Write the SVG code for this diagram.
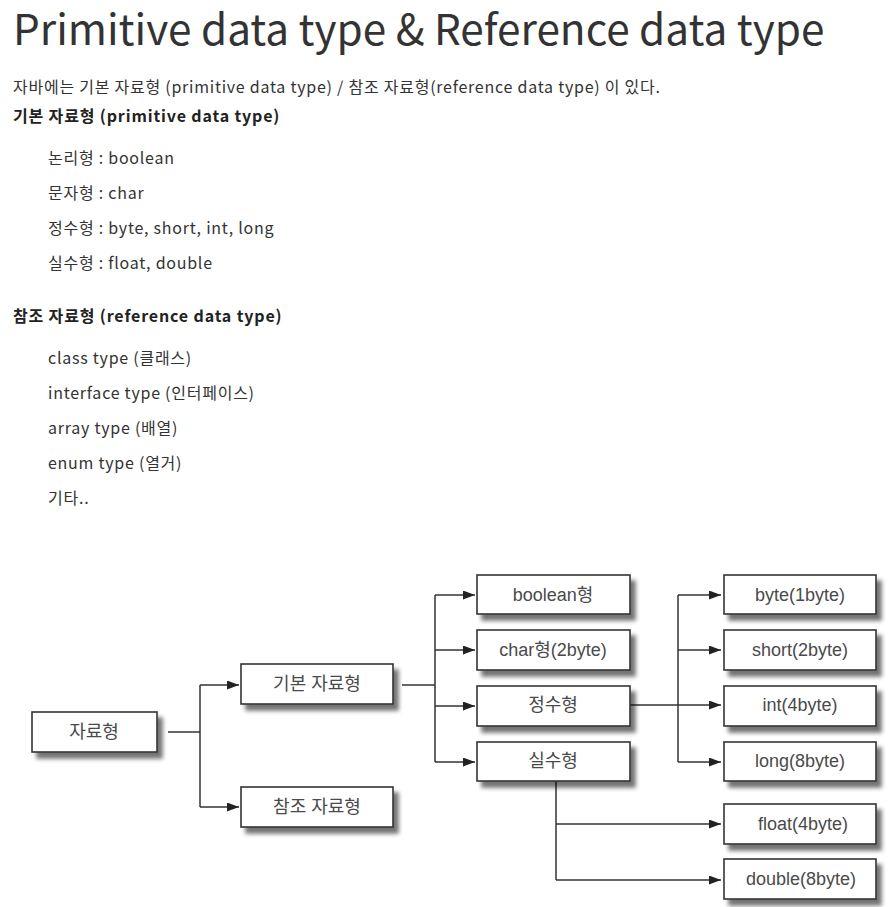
<svg xmlns="http://www.w3.org/2000/svg" width="894" height="907" viewBox="0 0 894 907">
<style>
.doc{font-family:"Noto Sans CJK KR","Noto Sans",sans-serif;fill:#333;}
.title{font-size:42.3px;}
.p{font-size:16px;letter-spacing:0.75px;}
.b{font-size:16px;font-weight:bold;fill:#222;letter-spacing:0.85px;}
.box rect{fill:#fff;stroke:#333;stroke-width:1.6;filter:url(#sh);}
.box text{font-family:"Liberation Sans","Noto Sans CJK KR",sans-serif;font-size:18px;fill:#4a4a4a;text-anchor:middle;}
.conn path{fill:none;stroke:#333;stroke-width:1.5;}
.conn path.a{marker-end:url(#arr);}
</style>
<defs>
<filter id="sh" x="-10%" y="-20%" width="130%" height="160%">
<feGaussianBlur in="SourceAlpha" stdDeviation="2"/>
<feOffset dx="5" dy="6" result="o"/>
<feComponentTransfer><feFuncA type="linear" slope="0.55"/></feComponentTransfer>
<feMerge><feMergeNode/><feMergeNode in="SourceGraphic"/></feMerge>
</filter>
<marker id="arr" markerWidth="13" markerHeight="10" refX="12" refY="4.5" orient="auto" markerUnits="userSpaceOnUse">
<path d="M0,0 L12,4.5 L0,9 z" fill="#222"/>
</marker>
</defs>
<rect width="894" height="907" fill="#fff"/>
<g id="text-body" class="doc">
<text class="title" x="13" y="45">Primitive data type &amp; Reference data type</text>
<text class="p" x="13" y="93">자바에는 기본 자료형 (primitive data type) / 참조 자료형(reference data type) 이 있다.</text>
<text class="b" x="13" y="122">기본 자료형 (primitive data type)</text>
<text class="p" x="48" y="164">논리형 : boolean</text>
<text class="p" x="48" y="199">문자형 : char</text>
<text class="p" x="48" y="234">정수형 : byte, short, int, long</text>
<text class="p" x="48" y="269">실수형 : float, double</text>
<text class="b" x="13" y="322">참조 자료형 (reference data type)</text>
<text class="p" x="48" y="364">class type (클래스)</text>
<text class="p" x="48" y="399">interface type (인터페이스)</text>
<text class="p" x="48" y="434">array type (배열)</text>
<text class="p" x="48" y="469">enum type (열거)</text>
<text class="p" x="48" y="504">기타..</text>
</g>
<g id="connectors" class="conn">
<path d="M168,732 H200"/>
<path d="M200,685 V807"/>
<path class="a" d="M200,685 H239"/>
<path class="a" d="M200,807 H239"/>
<path d="M402,685 H435"/>
<path d="M435,595 V762"/>
<path class="a" d="M435,595 H475"/>
<path class="a" d="M435,650 H475"/>
<path class="a" d="M435,706 H475"/>
<path class="a" d="M435,762 H475"/>
<path class="a" d="M630,705 H721"/>
<path d="M678,595 V762"/>
<path class="a" d="M678,595 H721"/>
<path class="a" d="M678,650 H721"/>
<path class="a" d="M678,762 H721"/>
<path d="M556,781 V880"/>
<path class="a" d="M556,824 H721"/>
<path class="a" d="M556,880 H721"/>
</g>
<g id="n-root" class="box"><rect x="32" y="712" width="125" height="40"/><text x="94" y="738">자료형</text></g>
<g id="n-prim" class="box"><rect x="241" y="664" width="152" height="40"/><text x="317" y="690">기본 자료형</text></g>
<g id="n-ref" class="box"><rect x="241" y="787" width="152" height="40"/><text x="317" y="813">참조 자료형</text></g>
<g id="n-bool" class="box"><rect x="477" y="575" width="153" height="39"/><text x="553" y="601">boolean형</text></g>
<g id="n-char" class="box"><rect x="477" y="630" width="153" height="40"/><text x="553" y="656">char형(2byte)</text></g>
<g id="n-int" class="box"><rect x="477" y="686" width="153" height="40"/><text x="553" y="711">정수형</text></g>
<g id="n-real" class="box"><rect x="477" y="742" width="153" height="39"/><text x="553" y="767">실수형</text></g>
<g id="n-byte" class="box"><rect x="724" y="575" width="152" height="39"/><text x="800" y="601">byte(1byte)</text></g>
<g id="n-short" class="box"><rect x="724" y="630" width="152" height="40"/><text x="800" y="656">short(2byte)</text></g>
<g id="n-int4" class="box"><rect x="724" y="686" width="152" height="40"/><text x="800" y="711">int(4byte)</text></g>
<g id="n-long" class="box"><rect x="724" y="742" width="152" height="39"/><text x="800" y="767">long(8byte)</text></g>
<g id="n-float" class="box"><rect x="724" y="804" width="152" height="40"/><text x="803" y="830">float(4byte)</text></g>
<g id="n-double" class="box"><rect x="724" y="859" width="152" height="40"/><text x="801" y="885">double(8byte)</text></g>
</svg>
